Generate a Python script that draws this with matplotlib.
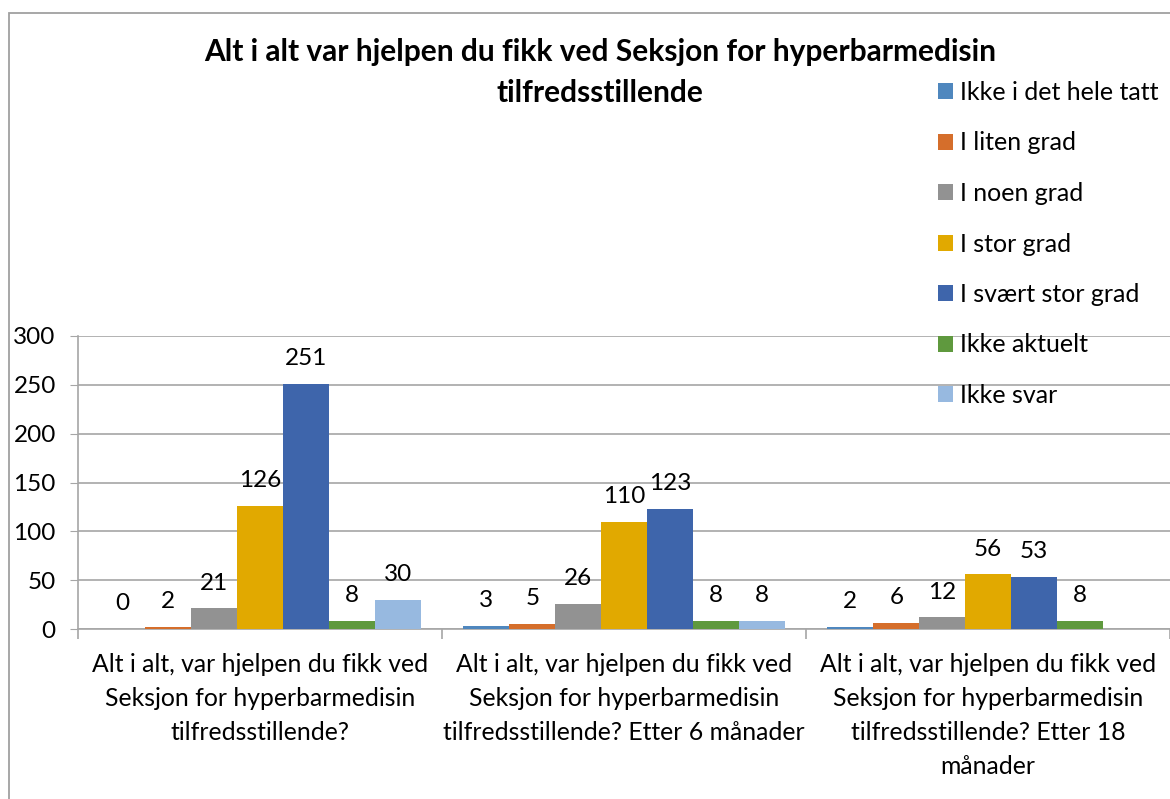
import matplotlib.pyplot as plt
import numpy as np
from matplotlib.patches import Rectangle

plt.rcParams['font.family'] = ['Lato', 'DejaVu Sans']

categories = [
    "Alt i alt, var hjelpen du fikk ved\nSeksjon for hyperbarmedisin\ntilfredsstillende?",
    "Alt i alt, var hjelpen du fikk ved\nSeksjon for hyperbarmedisin\ntilfredsstillende? Etter 6 månader",
    "Alt i alt, var hjelpen du fikk ved\nSeksjon for hyperbarmedisin\ntilfredsstillende? Etter 18\nmånader",
]
series_names = ["Ikke i det hele tatt", "I liten grad", "I noen grad", "I stor grad",
                "I svært stor grad", "Ikke aktuelt", "Ikke svar"]
ikke_i_det_hele_tatt = [0, 3, 2]
i_liten_grad = [2, 5, 6]
i_noen_grad = [21, 26, 12]
i_stor_grad = [126, 110, 56]
i_svaert_stor_grad = [251, 123, 53]
ikke_aktuelt = [8, 8, 8]
ikke_svar = [30, 8, None]
yticks = [0, 50, 100, 150, 200, 250, 300]
title_lines = ["Alt i alt var hjelpen du fikk ved Seksjon for hyperbarmedisin",
               "tilfredsstillende"]

colors = ["#4F87BE", "#D56E2B", "#929292", "#E1A900", "#3E65AB", "#5F993E", "#97B9E0"]
all_series = [ikke_i_det_hele_tatt, i_liten_grad, i_noen_grad, i_stor_grad,
              i_svaert_stor_grad, ikke_aktuelt, ikke_svar]

fig = plt.figure(figsize=(11.7, 7.99), dpi=100)
ax = fig.add_axes([78/1170, 1 - 629/799, 1 - 78/1170, (629 - 336)/799])

# outer chart border
fig.add_artist(Rectangle((9/1170, -0.1), 1.2, 1 - 13/799 + 0.1, transform=fig.transFigure,
                         fill=False, edgecolor="#A0A0A0", lw=1.3))

x = np.arange(len(categories))
w = 0.126
for i, (name, vals, c) in enumerate(zip(series_names, all_series, colors)):
    pos = x + (i - 3) * w
    v = np.array([np.nan if a is None else a for a in vals], dtype=float)
    ax.bar(pos, v, w, color=c, label=name, zorder=3)
    for p, a in zip(pos, vals):
        if a is None:
            continue
        ax.annotate(str(a), (p, a), xytext=(0, 13.5), textcoords="offset points",
                    ha="center", va="baseline", fontsize=17.5, color="black")

ax.set_xlim(-0.5, 2.5)
ax.set_ylim(0, 300)
ax.set_yticks(yticks)
ax.tick_params(axis="y", length=6, color="#A6A6A6", labelsize=17.5, pad=10)
ax.grid(axis="y", color="#A6A6A6", lw=1.2, zorder=0)
ax.set_xticks(x)
ax.set_xticklabels(categories, fontsize=17.8, linespacing=1.58)
ax.tick_params(axis="x", length=0, pad=17.5)
ax.set_xticks([-0.5, 0.5, 1.5, 2.5], minor=True)
ax.tick_params(axis="x", which="minor", length=7, color="#A6A6A6", width=1.2)
for s in ["top", "right"]:
    ax.spines[s].set_visible(False)
ax.spines["left"].set_color("#A6A6A6")
ax.spines["bottom"].set_color("#A6A6A6")
ax.spines["left"].set_linewidth(1.2)
ax.spines["bottom"].set_linewidth(1.2)
ax.set_axisbelow(True)

fig.text(600/1170, 1 - 52/799, title_lines[0], ha="center", va="center",
         fontsize=21.5, fontweight="bold")
fig.text(600/1170, 1 - 93/799, title_lines[1], ha="center", va="center",
         fontsize=21.5, fontweight="bold")

fig.legend(loc="upper left", bbox_to_anchor=(938/1170, 1 - 81/799), frameon=False,
           fontsize=18, handlelength=0.6, handleheight=0.6, handletextpad=0.3,
           labelspacing=1.1, borderpad=0, borderaxespad=0)

fig.savefig("out.png", dpi=100)
